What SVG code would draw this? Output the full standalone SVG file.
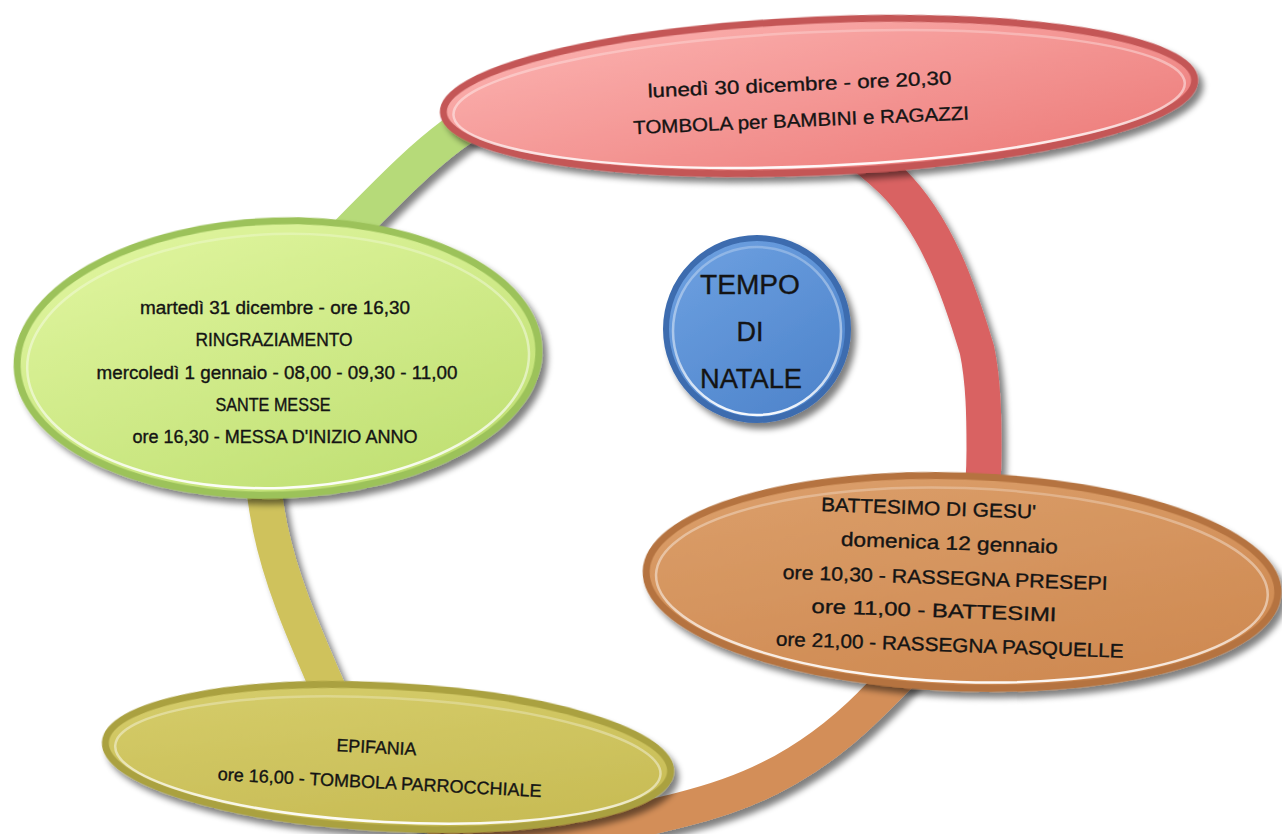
<svg xmlns="http://www.w3.org/2000/svg" width="1282" height="834" viewBox="0 0 1282 834">
<defs>
  <filter id="sh" x="-10%" y="-20%" width="125%" height="150%">
    <feGaussianBlur in="SourceAlpha" stdDeviation="3"/>
    <feOffset dx="5" dy="6"/>
    <feComponentTransfer><feFuncA type="linear" slope="0.5"/></feComponentTransfer>
    <feMerge><feMergeNode/><feMergeNode in="SourceGraphic"/></feMerge>
  </filter>
  <linearGradient id="gRed" x1="0" y1="0" x2="1" y2="1">
    <stop offset="0" stop-color="#fcb4b2"/><stop offset="1" stop-color="#ec7977"/>
  </linearGradient>
  <linearGradient id="gGreen" x1="0" y1="0" x2="0.6" y2="1">
    <stop offset="0" stop-color="#e2f7a2"/><stop offset="1" stop-color="#c2e176"/>
  </linearGradient>
  <linearGradient id="gOrange" x1="0" y1="0" x2="0.6" y2="1">
    <stop offset="0" stop-color="#dca06c"/><stop offset="1" stop-color="#cf8a52"/>
  </linearGradient>
  <linearGradient id="gYellow" x1="0" y1="0" x2="0.6" y2="1">
    <stop offset="0" stop-color="#d6ce6c"/><stop offset="1" stop-color="#c8bc55"/>
  </linearGradient>
  <linearGradient id="gBlue" x1="0" y1="0" x2="0.7" y2="1">
    <stop offset="0" stop-color="#6fa2e2"/><stop offset="1" stop-color="#4f85cc"/>
  </linearGradient>
  <linearGradient id="hlg" x1="0" y1="0" x2="0" y2="1">
    <stop offset="0" stop-color="#fff" stop-opacity="0.25"/><stop offset="0.6" stop-color="#fff" stop-opacity="0.5"/><stop offset="1" stop-color="#fff" stop-opacity="0.95"/>
  </linearGradient>
</defs>
<style>
  .t{font-family:"Liberation Sans",Arial,sans-serif;fill:#141414;stroke:#141414;stroke-width:0.35;text-anchor:middle}
  .arc{fill:none;stroke-width:35;stroke-linecap:butt}
  .hl{fill:none;stroke:url(#hlg);stroke-width:2.5}
</style>
<rect width="1282" height="834" fill="#ffffff"/>

<g id="connectors" filter="url(#sh)">
  <path class="arc" stroke="#b6da79" d="M258,400 C258,332 310.4,269.6 358,222 C388.1,191.9 417.6,160.8 452,135 C506.4,94.2 582,85 650,85"/>
  <path class="arc" stroke="#d96262" d="M650,85 C737,85 832,121 893,182 C937,226 959,290 977,350 C983.6,382 984,417 984,450 C984,494 978.2,538 965,580"/>
  <path class="arc" stroke="#d38e58" d="M965,580 C949.4,629.4 906.4,668.6 870,705 C841.3,733.7 806.5,759.6 770,778 C741.5,792.4 711,802.3 680,810 C640.2,819.8 601,831.2 560,832 C516,832.9 469.6,834.8 430,815"/>
  <path class="arc" stroke="#cfc25c" d="M430,815 C377.8,788.9 346.2,730.4 323,677 C301.8,628.2 280.6,579 270,527 C261.5,485.4 258,442.5 258,400"/>
</g>

<g id="node-center">
  <circle cx="757" cy="329" r="91" fill="url(#gBlue)" stroke="#3d6caf" stroke-width="6" filter="url(#sh)"/>
  <circle cx="757" cy="331" r="84" class="hl"/>
  <text class="t" x="750" y="294" font-size="27" textLength="100" lengthAdjust="spacingAndGlyphs">TEMPO</text>
  <text class="t" x="750" y="341" font-size="27">DI</text>
  <text class="t" x="751" y="388" font-size="27" textLength="102" lengthAdjust="spacingAndGlyphs">NATALE</text>
</g>

<g id="node-red" transform="rotate(-2.5 819 96)">
  <ellipse cx="819" cy="96" rx="376" ry="76" fill="url(#gRed)" stroke="#c45656" stroke-width="7" filter="url(#sh)"/>
  <ellipse cx="819" cy="99" rx="366" ry="67" class="hl"/>
  <text class="t" x="800" y="90" font-size="19" textLength="304" lengthAdjust="spacingAndGlyphs">lunedì 30 dicembre -  ore 20,30</text>
  <text class="t" x="800" y="126" font-size="19" textLength="336" lengthAdjust="spacingAndGlyphs">TOMBOLA per  BAMBINI e RAGAZZI</text>
</g>

<g id="node-green" transform="rotate(-2 278 358)">
  <ellipse cx="278" cy="358" rx="261" ry="137" fill="url(#gGreen)" stroke="#9cc25a" stroke-width="7" filter="url(#sh)"/>
  <ellipse cx="278" cy="361" rx="251" ry="127" class="hl"/>
  <g transform="rotate(2 278 358)">
    <text class="t" x="275" y="314" font-size="17.5" textLength="270" lengthAdjust="spacingAndGlyphs">martedì 31 dicembre - ore 16,30</text>
    <text class="t" x="274" y="346" font-size="17.5" textLength="157" lengthAdjust="spacingAndGlyphs">RINGRAZIAMENTO</text>
    <text class="t" x="277" y="379" font-size="17.5" textLength="361" lengthAdjust="spacingAndGlyphs">mercoledì 1 gennaio - 08,00 - 09,30 - 11,00</text>
    <text class="t" x="273" y="411" font-size="17.5" textLength="115" lengthAdjust="spacingAndGlyphs">SANTE MESSE</text>
    <text class="t" x="275" y="443" font-size="17.5" textLength="285" lengthAdjust="spacingAndGlyphs">ore 16,30 - MESSA D'INIZIO ANNO</text>
  </g>
</g>

<g id="node-orange" transform="rotate(2 962 582)">
  <ellipse cx="962" cy="582" rx="316" ry="106" fill="url(#gOrange)" stroke="#b5733f" stroke-width="7" filter="url(#sh)"/>
  <ellipse cx="962" cy="585" rx="306" ry="97" class="hl"/>
  <text class="t" x="926" y="516" font-size="19.5" textLength="215" lengthAdjust="spacingAndGlyphs">BATTESIMO DI GESU'</text>
  <text class="t" x="948" y="550" font-size="19.5" textLength="217" lengthAdjust="spacingAndGlyphs">domenica 12 gennaio</text>
  <text class="t" x="945" y="585" font-size="19.5" textLength="325" lengthAdjust="spacingAndGlyphs">ore 10,30 - RASSEGNA PRESEPI</text>
  <text class="t" x="935" y="618" font-size="19.5" textLength="245" lengthAdjust="spacingAndGlyphs">ore 11,00 - BATTESIMI</text>
  <text class="t" x="952" y="652" font-size="19.5" textLength="348" lengthAdjust="spacingAndGlyphs">ore 21,00 - RASSEGNA PASQUELLE</text>
</g>

<g id="node-yellow" transform="rotate(3 388 757)">
  <ellipse cx="388" cy="757" rx="283" ry="71" fill="url(#gYellow)" stroke="#aaa140" stroke-width="7" filter="url(#sh)"/>
  <ellipse cx="388" cy="760" rx="273" ry="62" class="hl"/>
  <text class="t" x="376" y="754" font-size="18" textLength="80" lengthAdjust="spacingAndGlyphs">EPIFANIA</text>
  <text class="t" x="381" y="789" font-size="18" textLength="324" lengthAdjust="spacingAndGlyphs">ore 16,00 - TOMBOLA PARROCCHIALE</text>
</g>
</svg>
